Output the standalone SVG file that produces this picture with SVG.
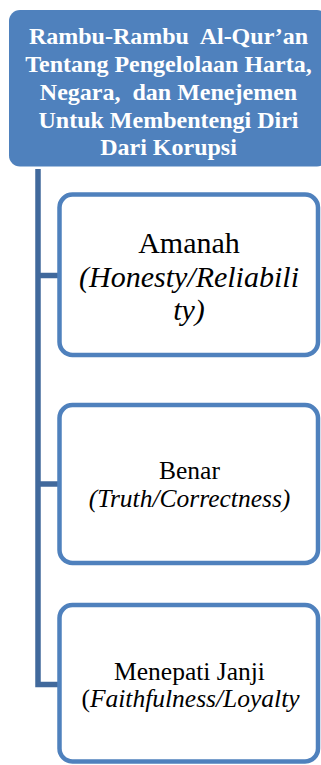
<svg xmlns="http://www.w3.org/2000/svg" width="321" height="765" viewBox="0 0 321 765">
<style>
text{font-family:"Liberation Serif","Times New Roman",serif}
.title{font-weight:bold;font-size:24px;fill:#FFFFFF;text-anchor:middle}
.lbl{fill:#000000;text-anchor:middle}
.it{font-style:italic}
.box{fill:#FFFFFF;stroke:#4F81BD;stroke-width:4.5}
.conn{fill:none;stroke:#41699C;stroke-width:5.5}
</style>
<rect width="321" height="765" fill="#FFFFFF"/>
<g id="connectors">
<path class="conn" d="M38 169 V684.5 H60"/>
<path class="conn" d="M38 275.5 H60"/>
<path class="conn" d="M38 484 H60"/>
</g>
<g id="root">
<rect x="9" y="10" width="319" height="156.5" rx="11" fill="#4F81BD"/>
<text class="title" x="168.5" y="43.5">Rambu-Rambu&#160; Al-Qur’an</text>
<text class="title" x="168.5" y="71.5">Tentang Pengelolaan Harta,</text>
<text class="title" x="168.5" y="99.5">Negara,&#160; dan Menejemen</text>
<text class="title" x="168.5" y="127.5">Untuk Membentengi Diri</text>
<text class="title" x="168.5" y="155">Dari Korupsi</text>
</g>
<g id="amanah">
<rect class="box" x="59.5" y="194.5" width="258.5" height="160.5" rx="13"/>
<text class="lbl" x="189" y="253" font-size="30">Amanah</text>
<text class="lbl it" x="189" y="287" font-size="30">(Honesty/Reliabili</text>
<text class="lbl it" x="189" y="320" font-size="30">ty)</text>
</g>
<g id="benar">
<rect class="box" x="59.5" y="405" width="258.5" height="158" rx="13"/>
<text class="lbl" x="189.5" y="479" font-size="25.5">Benar</text>
<text class="lbl it" x="189.5" y="507" font-size="25.5">(Truth/Correctness)</text>
</g>
<g id="janji">
<rect class="box" x="59.5" y="605" width="258.5" height="156.5" rx="13"/>
<text class="lbl" x="189.5" y="680" font-size="25.5">Menepati Janji</text>
<text class="lbl" x="190.5" y="707" font-size="25.5">(<tspan class="it">Faithfulness/Loyalty</tspan></text>
</g>
</svg>
